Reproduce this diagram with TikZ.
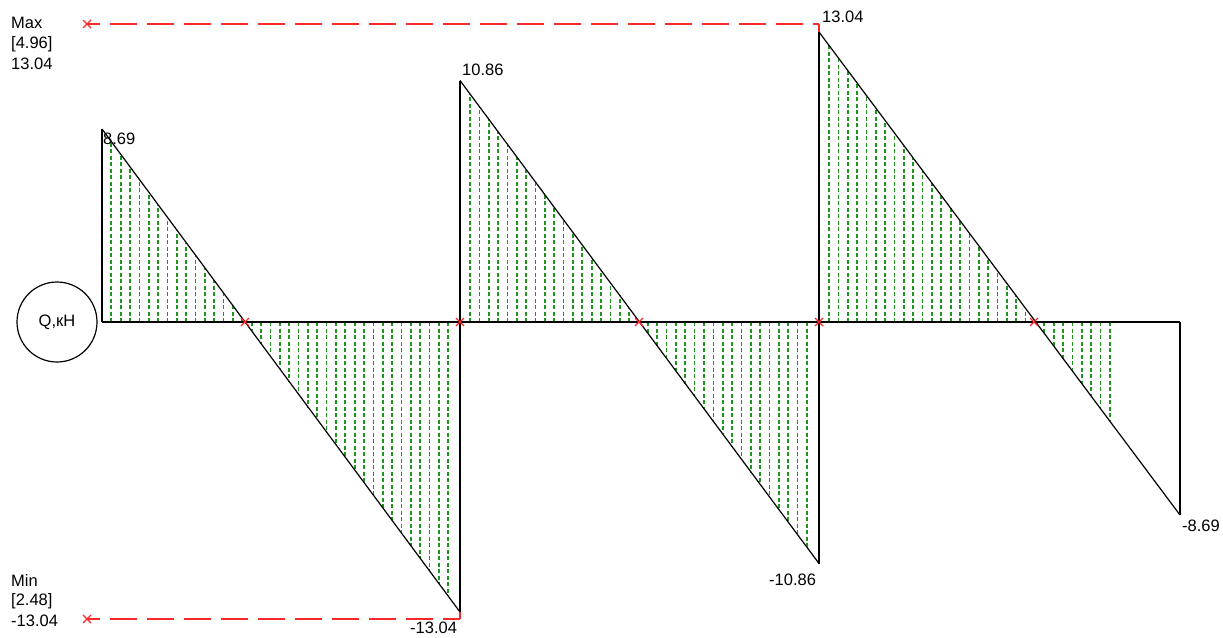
\documentclass[tikz,border=0pt]{standalone}
\usepackage{fontspec}
\setmainfont{Liberation Sans}
\definecolor{hatchgreen}{RGB}{30,150,30}
\definecolor{markred}{RGB}{250,40,40}
\tikzset{
  hatch/.style={hatchgreen, line width=1.7pt, dash pattern=on 4pt off 2.5pt},
  beam/.style={black, line width=2pt},
  diag/.style={black, line width=1.2pt},
  edge/.style={black, line width=1.5pt},
  lbl/.style={inner sep=0pt, anchor=west, font=\fontsize{16.5}{19}\selectfont},
  reddash/.style={markred, line width=1.5pt, dash pattern=on 27pt off 10pt, dash phase=14pt},
  redline/.style={markred, line width=1.3pt},
}
\newcommand{\redcross}[1]{\draw[redline] ($(#1)+(-4,-4)$) -- ($(#1)+(4,4)$) ($(#1)+(-4,4)$) -- ($(#1)+(4,-4)$);}
\usetikzlibrary{calc}
\begin{document}
\begin{tikzpicture}[x=1pt,y=-1pt]
\fill[white] (0,0) rectangle (1223,637);
\useasboundingbox (0,0) rectangle (1223,637);
% key points
\coordinate (A0) at (102,322);
\coordinate (A1) at (102,129);
\coordinate (Z1) at (245,322);
\coordinate (B0) at (460,322);
\coordinate (Bm) at (460,612);
\coordinate (B1) at (460,80.5);
\coordinate (Z2) at (639,322);
\coordinate (C0) at (819,322);
\coordinate (Cm) at (819,563.5);
\coordinate (C1) at (819,32);
\coordinate (Z3) at (1034,322);
\coordinate (D0) at (1180,322);
\coordinate (Dm) at (1180,515);
% hatching
\foreach \k in {0,...,36}{
  \pgfmathsetmacro\xx{111.3+\k*9.36}
  \pgfmathsetmacro\yy{129+(\xx-102)*1.3492}
  \draw[hatch] (\xx,322) -- (\xx,\yy);
}
\foreach \k in {0,...,36}{
  \pgfmathsetmacro\xx{470+\k*9.36}
  \pgfmathsetmacro\yy{80.5+(\xx-460)*1.3454}
  \draw[hatch] (\xx,322) -- (\xx,\yy);
}
\foreach \k in {0,...,30}{
  \pgfmathsetmacro\xx{829+\k*9.36}
  \pgfmathsetmacro\yy{32+(\xx-819)*1.338}
  \draw[hatch] (\xx,322) -- (\xx,\yy);
}
% diagram lines
\draw[diag] (A1) -- (Bm);
\draw[diag] (B1) -- (Cm);
\draw[diag] (C1) -- (Dm);
\draw[edge] (A0) -- (A1);
\draw[edge] (Bm) -- (B1);
\draw[edge] (Cm) -- (C1);
\draw[edge] (D0) -- (Dm);
\draw[beam] (A0) -- (D0);
% zero markers
\foreach \p in {Z1,B0,Z2,C0,Z3}{\redcross{\p}}
% max / min lines
\coordinate (MaxL) at (87,24);
\coordinate (MaxR) at (819,24);
\coordinate (MinL) at (87,619);
\coordinate (MinR) at (460,619);
\draw[reddash] (MaxL) -- (MaxR);
\draw[reddash] (MinL) -- (MinR);
\draw[redline] (MaxR) -- (C1);
\draw[redline] (MinR) -- (Bm);
\redcross{MaxL}
\redcross{MinL}
% circle
\node[draw, circle, line width=1.2pt, minimum size=80pt, inner sep=0pt, font=\fontsize{16.5}{19}\selectfont] (q) at (57,322) {Q,кН};
% labels
\node[lbl] (maxt) at (11,23) {Max};
\node[lbl] (maxx) at (11,44) {[4.96]};
\node[lbl] (maxv) at (11,64) {13.04};
\node[lbl] (mint) at (11,581) {Min};
\node[lbl] (minx) at (11,601) {[2.48]};
\node[lbl] (minv) at (11,621) {-13.04};
\node[lbl] (l1) at (103,139) {8.69};
\node[lbl] (l2) at (462,70) {10.86};
\node[lbl] (l3) at (822,17) {13.04};
\node[lbl] (l4) at (410,628) {-13.04};
\node[lbl] (l5) at (769,580) {-10.86};
\node[lbl] (l6) at (1182,526) {-8.69};
\end{tikzpicture}
\end{document}
